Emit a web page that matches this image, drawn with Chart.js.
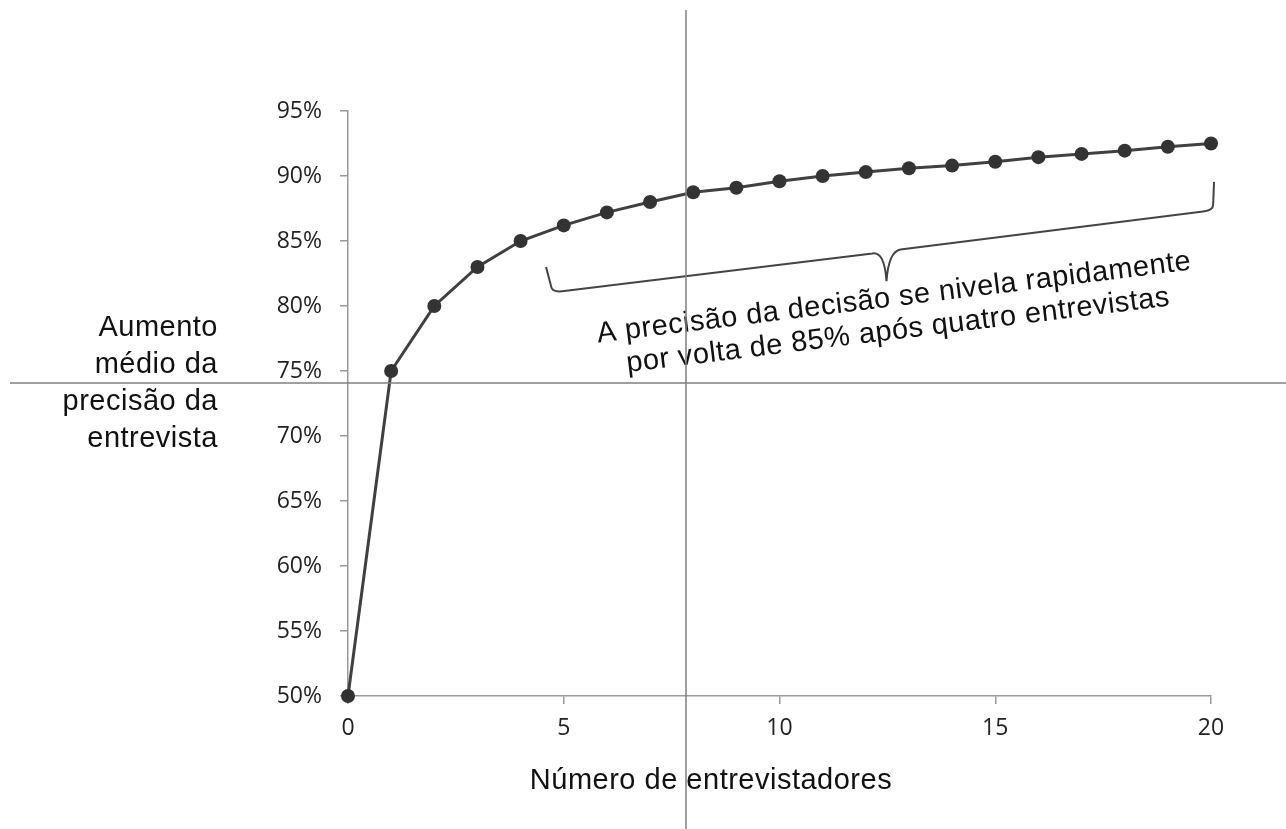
<!DOCTYPE html>
<html lang="pt">
<head>
<meta charset="utf-8">
<title>Precisão da entrevista</title>
<script src="https://cdn.jsdelivr.net/npm/chart.js"></script>
<style>
    html, body { margin: 0; padding: 0; background: #fff; }
    canvas { display: block; }
</style>
</head>
<body>
<canvas id="grafico" width="1286" height="829"></canvas>
<script>
// dados
const entrevistadores = [0, 1, 2, 3, 4, 5, 6, 7, 8, 9, 10, 11, 12, 13, 14, 15, 16, 17, 18, 19, 20]
const precisao = [50, 75, 80, 83, 85, 86.2, 87.2, 88.0, 88.75, 89.1, 89.6, 90.0, 90.3, 90.6, 90.8, 91.1, 91.45, 91.7, 91.95, 92.25, 92.5]
const ticksX = [0, 5, 10, 15, 20]
const ticksY = [50, 55, 60, 65, 70, 75, 80, 85, 90, 95]

const tituloY = ["Aumento", "médio da", "precisão da", "entrevista"]
const tituloX = "Número de entrevistadores"
const nota = ["A precisão da decisão se nivela rapidamente", "por volta de 85% após quatro entrevistas"]

// chave (em unidades do gráfico)
const chave = {
    esq: [4.59, 83.0],
    canto: [4.73, 81.05],
    meio: [12.48, 84.2],
    ponta: [12.48, 81.9],
    dir: [20.05, 87.35],
    topo: [20.07, 89.55]
}

const fonteTexto = '29px "Liberation Sans", Arial, sans-serif'

const anotacoes = {
    id: 'anotacoes',
    afterDraw(chart) {
        const ctx = chart.ctx
        const sx = chart.scales.x
        const sy = chart.scales.y
        const px = (p) => [sx.getPixelForValue(p[0]), sy.getPixelForValue(p[1])]

        ctx.save()
        ctx.fillStyle = '#111'
        ctx.font = fonteTexto
        ctx.letterSpacing = '0.5px'

        // titulo do eixo y
        ctx.textAlign = 'right'
        ctx.textBaseline = 'middle'
        tituloY.forEach((linha, i) => {
            ctx.fillText(linha, 218, 328 + i * 37)
        })

        // titulo do eixo x
        ctx.textAlign = 'center'
        ctx.fillText(tituloX, 711, 781)

        // chave
        const a = px(chave.esq), b = px(chave.canto), m = px(chave.meio)
        const t = px(chave.ponta), d = px(chave.dir), e = px(chave.topo)
        ctx.strokeStyle = '#444'
        ctx.lineWidth = 2
        ctx.lineJoin = 'round'
        ctx.beginPath()
        ctx.moveTo(a[0], a[1])
        ctx.lineTo(b[0] - 1, b[1] - 6)
        ctx.quadraticCurveTo(b[0], b[1], b[0] + 10, b[1] - 1)
        ctx.lineTo(m[0] - 14, m[1] + 2)
        ctx.quadraticCurveTo(m[0] - 2, m[1], t[0], t[1])
        ctx.moveTo(t[0], t[1])
        ctx.quadraticCurveTo(m[0] + 2, m[1], m[0] + 14, m[1] - 2)
        ctx.lineTo(d[0] - 10, d[1] + 1)
        ctx.quadraticCurveTo(d[0], d[1], d[0], d[1] - 6)
        ctx.lineTo(e[0], e[1])
        ctx.stroke()

        // nota girada
        ctx.translate(895, 306)
        ctx.rotate(-7 * Math.PI / 180)
        ctx.textBaseline = 'alphabetic'
        ctx.fillStyle = '#111'
        ctx.fillText(nota[0], 0, 0)
        ctx.fillText(nota[1], 0, 33)
        ctx.restore()

        // linhas cruzadas da imagem original
        ctx.save()
        ctx.strokeStyle = '#808080'
        ctx.lineWidth = 1.5
        ctx.beginPath()
        ctx.moveTo(686, 10)
        ctx.lineTo(686, 829)
        ctx.moveTo(10, 383)
        ctx.lineTo(1286, 383)
        ctx.stroke()
        ctx.restore()
    }
}

const ctx = document.getElementById("grafico").getContext("2d")

new Chart(ctx, {
    type: 'line',
    data: {
        datasets: [{
            label: 'Precisão',
            data: entrevistadores.map((n, i) => ({ x: n, y: precisao[i] })),
            borderColor: '#404040',
            borderWidth: 3,
            pointRadius: 7,
            pointBackgroundColor: '#333',
            pointBorderColor: '#333',
            pointBorderWidth: 0,
            tension: 0,
            clip: false
        }]
    },
    options: {
        responsive: false,
        animation: false,
        events: [],
        layout: {
            padding: { top: 111, right: 75, left: 0, bottom: 0 }
        },
        plugins: {
            legend: { display: false },
            tooltip: { enabled: false }
        },
        scales: {
            x: {
                type: 'linear',
                min: 0,
                max: 20,
                afterFit: (scale) => { scale.height = 133 },
                afterBuildTicks: (scale) => { scale.ticks = ticksX.map(v => ({ value: v })) },
                grid: {
                    drawOnChartArea: false,
                    color: '#999',
                    tickLength: 8,
                    lineWidth: 1.5
                },
                border: { color: '#999', width: 1.5 },
                ticks: {
                    color: '#222',
                    padding: 11,
                    maxRotation: 0,
                    font: { family: '"Open Sans", sans-serif', size: 23 }
                }
            },
            y: {
                min: 50,
                max: 95,
                afterFit: (scale) => { scale.width = 348 },
                afterBuildTicks: (scale) => { scale.ticks = ticksY.map(v => ({ value: v })) },
                grid: {
                    drawOnChartArea: false,
                    color: '#999',
                    tickLength: 8,
                    lineWidth: 1.5
                },
                border: { color: '#999', width: 1.5 },
                ticks: {
                    color: '#222',
                    padding: 18,
                    font: { family: '"Open Sans", sans-serif', size: 23 },
                    callback: (v) => v + '%'
                }
            }
        }
    },
    plugins: [anotacoes]
})
</script>
</body>
</html>
